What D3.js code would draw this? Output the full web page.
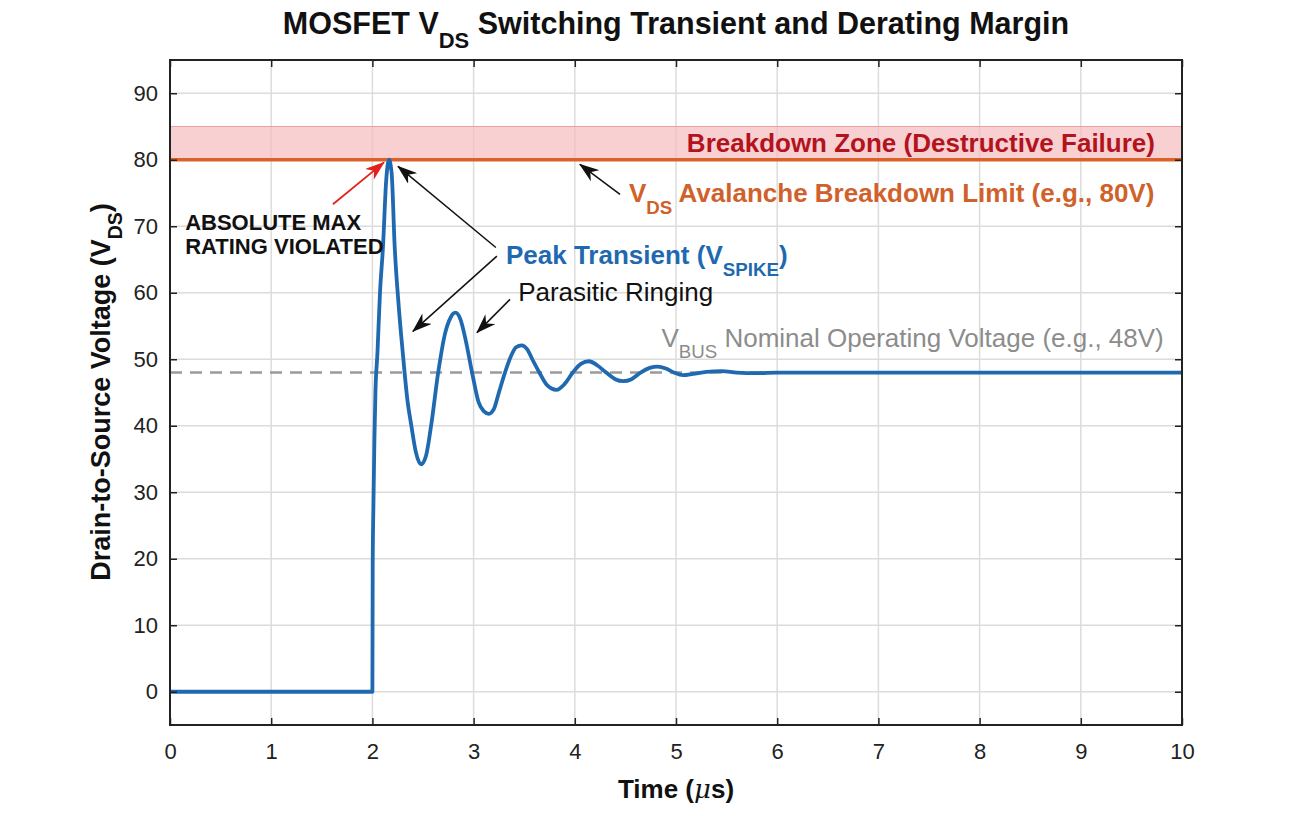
<!DOCTYPE html>
<html>
<head>
<meta charset="utf-8">
<script src="https://cdn.jsdelivr.net/npm/d3@7"></script>
<style>
  html, body { margin: 0; padding: 0; background: #fff; }
  svg { display: block; font-family: "Liberation Sans", Arial, Helvetica, sans-serif; }
</style>
</head>
<body>
<svg id="chart" width="1306" height="816"></svg>
<script>
// ---------------- DATA ----------------
const timeUs = [0, 2.0, 2.003, 2.01, 2.02, 2.03, 2.05, 2.075, 2.105, 2.135, 2.164, 2.19, 2.22, 2.26, 2.30, 2.345, 2.385, 2.43, 2.48,
  2.53, 2.58, 2.65, 2.72, 2.77, 2.82, 2.87, 2.92, 2.985, 3.05, 3.10, 3.15, 3.20, 3.25, 3.31, 3.37, 3.42, 3.475,
  3.53, 3.58, 3.65, 3.72, 3.77, 3.82, 3.90, 3.98, 4.06, 4.14, 4.22, 4.31, 4.40, 4.48, 4.56, 4.65, 4.74, 4.82,
  4.90, 4.98, 5.07, 5.17, 5.30, 5.45, 5.60, 5.80, 6.0, 6.5, 7, 8, 9, 10];
const vdsVolts = [0, 0, 19, 28, 38, 45, 51, 60, 67, 76.6, 80, 78, 67, 58, 51, 44, 40, 36, 34.2,
  35.5, 40, 48, 54, 56.2, 57, 56, 53, 48, 43.5, 42.2, 41.8, 42.5, 45, 48, 50.5, 51.8, 52.1,
  51.5, 50, 48, 46.2, 45.6, 45.4, 46.3, 48, 49.3, 49.7, 49.1, 48, 47, 46.7, 47.0, 48, 48.7, 48.9,
  48.6, 48, 47.6, 47.8, 48.1, 48.2, 48.0, 47.9, 48, 48, 48, 48, 48, 48];

const xTicks = [0, 1, 2, 3, 4, 5, 6, 7, 8, 9, 10];
const yTicks = [0, 10, 20, 30, 40, 50, 60, 70, 80, 90];
const xDomain = [0, 10];
const yDomain = [-5, 95];

const breakdownLimit = 80;     // V
const breakdownZoneTop = 85;   // V
const busVoltage = 48;         // V

// annotation arrows: [tailT, tailV, tipT, tipV]
const redArrow = [1.61, 73.3, 2.115, 79.6];
const blackArrows = [
  [3.22, 66.8, 2.253, 79.0],
  [3.23, 65.5, 2.40, 54.2],
  [3.36, 59.0, 3.033, 54.0],
  [4.447, 74.8, 4.05, 79.3]
];

// ---------------- LAYOUT ----------------
const svg = d3.select("#chart");
const L = 170, R = 1182, T = 60, B = 725;
const x = d3.scaleLinear().domain(xDomain).range([L, R]);
const y = d3.scaleLinear().domain(yDomain).range([B, T]);

svg.append("defs").append("clipPath").attr("id", "plotClip")
  .append("rect").attr("x", L).attr("y", T).attr("width", R - L).attr("height", B - T);

const defs = svg.select("defs");
function marker(id, color) {
  defs.append("marker").attr("id", id)
    .attr("viewBox", "0 0 20 14").attr("refX", 19).attr("refY", 7)
    .attr("markerWidth", 20).attr("markerHeight", 14)
    .attr("markerUnits", "userSpaceOnUse").attr("orient", "auto")
    .append("path").attr("d", "M0,0 L20,7 L0,14 L6,7 Z").attr("fill", color);
}
marker("headBlack", "#111");
marker("headRed", "#e3211c");

// grid
const grid = svg.append("g");
grid.selectAll(".gx").data(xTicks.slice(1, -1)).join("line")
  .attr("x1", d => x(d)).attr("x2", d => x(d)).attr("y1", T).attr("y2", B)
  .attr("stroke", "#dcdcdc").attr("stroke-width", 1.5);
grid.selectAll(".gy").data(yTicks).join("line")
  .attr("y1", d => y(d)).attr("y2", d => y(d)).attr("x1", L).attr("x2", R)
  .attr("stroke", "#dcdcdc").attr("stroke-width", 1.5);

const plot = svg.append("g").attr("clip-path", "url(#plotClip)");

// breakdown band
plot.append("rect")
  .attr("x", L).attr("width", R - L)
  .attr("y", y(breakdownZoneTop)).attr("height", y(breakdownLimit) - y(breakdownZoneTop))
  .attr("fill", "#f7bcbf").attr("fill-opacity", 0.7)
  .attr("stroke", "#eba0a0").attr("stroke-width", 1);

// bus dashed line
plot.append("line")
  .attr("x1", L).attr("x2", R).attr("y1", y(busVoltage)).attr("y2", y(busVoltage))
  .attr("stroke", "#9a9a9a").attr("stroke-width", 2.5).attr("stroke-dasharray", "12,8");

// breakdown limit line
plot.append("line")
  .attr("x1", L).attr("x2", R).attr("y1", y(breakdownLimit)).attr("y2", y(breakdownLimit))
  .attr("stroke", "#d9622b").attr("stroke-width", 3.5);

// VDS curve
const pts = timeUs.map((t, i) => [t, vdsVolts[i]]);
plot.append("path").datum(pts)
  .attr("d", d3.line().x(d => x(d[0])).y(d => y(d[1])).curve(d3.curveMonotoneX))
  .attr("fill", "none").attr("stroke", "#1f69b1").attr("stroke-width", 3.8)
  .attr("stroke-linejoin", "round");

// axes (box with inward ticks on all sides)
const axisColor = "#222";
const tickLen = 7;
const axB = svg.append("g").attr("transform", `translate(0,${B})`)
  .call(d3.axisBottom(x).tickValues(xTicks).tickSize(-tickLen).tickPadding(18).tickFormat(d3.format("d")));
const axT = svg.append("g").attr("transform", `translate(0,${T})`)
  .call(d3.axisTop(x).tickValues(xTicks).tickSize(-tickLen).tickFormat(""));
const axL = svg.append("g").attr("transform", `translate(${L},0)`)
  .call(d3.axisLeft(y).tickValues(yTicks).tickSize(-tickLen).tickPadding(12).tickFormat(d3.format("d")));
const axR = svg.append("g").attr("transform", `translate(${R},0)`)
  .call(d3.axisRight(y).tickValues(yTicks).tickSize(-tickLen).tickFormat(""));
[axB, axT, axL, axR].forEach(a => {
  a.select(".domain").remove();
  a.selectAll(".tick line").attr("stroke", axisColor).attr("stroke-width", 1.5);
  a.selectAll(".tick text").attr("fill", "#222").attr("font-size", 22)
    .attr("font-family", "'Liberation Sans', Arial, sans-serif");
});
svg.append("rect").attr("x", L).attr("y", T).attr("width", R - L).attr("height", B - T)
  .attr("fill", "none").attr("stroke", axisColor).attr("stroke-width", 2);

// ---------------- TEXT ----------------
function subText(g, opts, parts) {
  const t = g.append("text").attr("x", opts.x).attr("y", opts.y)
    .attr("font-size", opts.size).attr("font-weight", opts.weight || "normal")
    .attr("fill", opts.fill).attr("text-anchor", opts.anchor || "start");
  if (opts.transform) t.attr("transform", opts.transform);
  parts.forEach(p => {
    const s = t.append("tspan").text(p.text);
    if (p.sub) s.attr("font-size", opts.size * 0.72).attr("dy", opts.size * 0.45);
    else if (p.after) s.attr("dy", -opts.size * 0.45);
  });
  return t;
}

// title
subText(svg, { x: 676, y: 34, size: 30.5, weight: "bold", fill: "#111", anchor: "middle" },
  [{ text: "MOSFET V" }, { text: "DS", sub: true }, { text: " Switching Transient and Derating Margin", after: true }]);

// axis labels
svg.append("text").attr("x", 676).attr("y", 798).attr("text-anchor", "middle")
  .attr("font-size", 26).attr("font-weight", "bold").attr("fill", "#111")
  .html('Time (<tspan font-style="italic" font-family="\'DejaVu Serif\', serif" font-weight="normal">μ</tspan>s)');
subText(svg, { x: 0, y: 0, size: 27, weight: "bold", fill: "#111", anchor: "middle",
  transform: "translate(110,392) rotate(-90)" },
  [{ text: "Drain-to-Source Voltage (V" }, { text: "DS", sub: true }, { text: ")", after: true }]);

// annotations
const ann = svg.append("g");
ann.append("text").attr("x", x(9.733)).attr("y", y(81.1)).attr("text-anchor", "end")
  .attr("font-size", 26).attr("font-weight", "bold").attr("fill", "#b3131d")
  .text("Breakdown Zone (Destructive Failure)");
subText(ann, { x: x(4.535), y: y(73.6), size: 26, weight: "bold", fill: "#d0612b" },
  [{ text: "V" }, { text: "DS", sub: true }, { text: " Avalanche Breakdown Limit (e.g., 80V)", after: true }]);
subText(ann, { x: x(3.32), y: y(64.3), size: 26, weight: "bold", fill: "#1f69b1" },
  [{ text: "Peak Transient (V" }, { text: "SPIKE", sub: true }, { text: ")", after: true }]);
ann.append("text").attr("x", x(3.44)).attr("y", y(58.7))
  .attr("font-size", 26).attr("fill", "#111").text("Parasitic Ringing");
subText(ann, { x: x(9.82), y: y(51.9), size: 26, fill: "#8c8c8c", anchor: "end" },
  [{ text: "V" }, { text: "BUS", sub: true }, { text: " Nominal Operating Voltage (e.g., 48V)", after: true }]);
ann.append("text").attr("x", x(0.15)).attr("y", y(69.5))
  .attr("font-size", 22).attr("font-weight", "bold").attr("fill", "#111").text("ABSOLUTE MAX");
ann.append("text").attr("x", x(0.15)).attr("y", y(65.9))
  .attr("font-size", 22).attr("font-weight", "bold").attr("fill", "#111").text("RATING VIOLATED");

// arrows
ann.append("line")
  .attr("x1", x(redArrow[0])).attr("y1", y(redArrow[1])).attr("x2", x(redArrow[2])).attr("y2", y(redArrow[3]))
  .attr("stroke", "#e3211c").attr("stroke-width", 1.8).attr("marker-end", "url(#headRed)");
ann.selectAll(".barrow").data(blackArrows).join("line")
  .attr("x1", d => x(d[0])).attr("y1", d => y(d[1])).attr("x2", d => x(d[2])).attr("y2", d => y(d[3]))
  .attr("stroke", "#111").attr("stroke-width", 1.5).attr("marker-end", "url(#headBlack)");
</script>
</body>
</html>
